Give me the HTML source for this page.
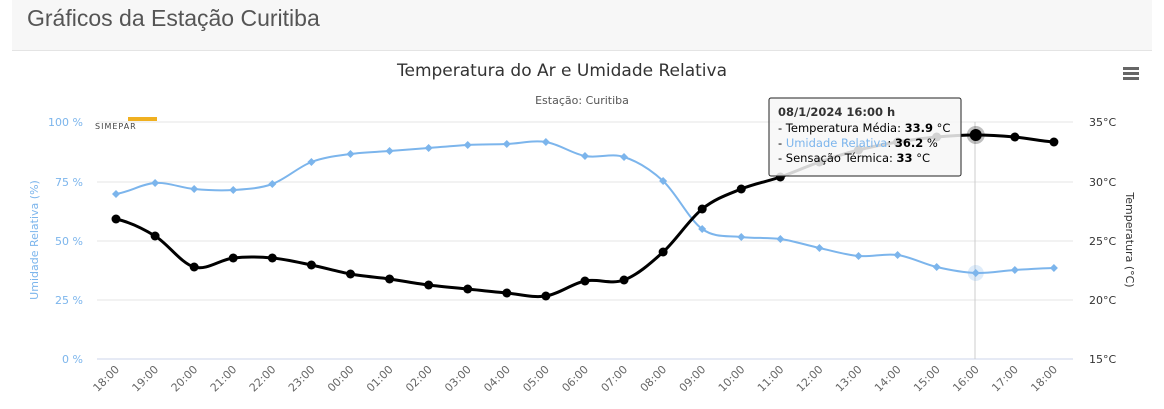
<!DOCTYPE html>
<html><head><meta charset="utf-8"><style>
body{margin:0;width:1164px;height:409px;background:#fff;overflow:hidden;font-family:"Liberation Sans",sans-serif}
#hd{position:absolute;left:12px;top:0;width:1140px;height:50px;background:#f7f7f7;border-bottom:1px solid #e4e4e4}
#hd span{position:absolute;left:15px;top:5px;font-size:23px;color:#555}
svg{position:absolute;left:0;top:0}
</style></head><body>
<div id="hd"><span>Gráficos da Estação Curitiba</span></div>
<svg id="s" width="1164" height="409" font-family="DejaVu Sans, sans-serif">
<text x="562" y="76" text-anchor="middle" font-size="17" fill="#333">Temperatura do Ar e Umidade Relativa</text>
<text x="582" y="104" text-anchor="middle" font-size="11" fill="#555">Estação: Curitiba</text>
<g fill="#666"><rect x="1123" y="67" width="16" height="3"/><rect x="1123" y="72" width="16" height="3"/><rect x="1123" y="77" width="16" height="3"/></g>
<rect x="128" y="117" width="29" height="4" fill="#f0b020"/>
<text x="95" y="129" font-size="8" fill="#444" letter-spacing="1">SIMEPAR</text>
<g stroke="#e6e6e6"><line x1="97" x2="1073" y1="122" y2="122"/><line x1="97" x2="1073" y1="182" y2="182"/><line x1="97" x2="1073" y1="241" y2="241"/><line x1="97" x2="1073" y1="300" y2="300"/></g>
<line x1="97" x2="1073" y1="359" y2="359" stroke="#ccd6eb"/>
<g font-size="11" fill="#7cb5ec" text-anchor="end"><text x="83" y="126">100 %</text><text x="83" y="186">75 %</text><text x="83" y="245">50 %</text><text x="83" y="304">25 %</text><text x="83" y="363">0 %</text></g>
<g font-size="11" fill="#333"><text x="1089" y="126">35°C</text><text x="1089" y="186">30°C</text><text x="1089" y="245">25°C</text><text x="1089" y="304">20°C</text><text x="1089" y="363">15°C</text></g>
<text transform="translate(38,240) rotate(-90)" text-anchor="middle" font-size="11" fill="#7cb5ec">Umidade Relativa (%)</text>
<text transform="translate(1126,240) rotate(90)" text-anchor="middle" font-size="11" fill="#333">Temperatura (°C)</text>
<line x1="975" x2="975" y1="122" y2="359" stroke="#ccc"/>
<g id="g"></g>
<rect x="769" y="98" width="192" height="78" fill="#f7f7f7" fill-opacity="0.85" stroke="#222" rx="2"/>
<text x="778" y="116" font-size="11.5" font-weight="bold" fill="#333">08/1/2024 16:00 h</text>
<text x="778" y="132" font-size="11.5" fill="#000">- Temperatura Média: <tspan font-weight="bold">33.9</tspan> °C</text>
<text x="778" y="147" font-size="11.5" fill="#000">- <tspan fill="#7cb5ec">Umidade Relativa</tspan>: <tspan font-weight="bold">36.2</tspan> %</text>
<text x="778" y="162" font-size="11.5" fill="#000">- Sensação Térmica: <tspan font-weight="bold">33</tspan> °C</text>
</svg>
<script>
var h=[194,183,189,190,184,162,154,151,148,145,144,142,156,157,181,229,237,239,248,256,255,267,273,270,268];
var t=[219,236,267,258,258,265,274,279,285,289,293,296,281,280,252,209,189,177,162,150,142,137,135,137,142];
var labs=["18:00","19:00","20:00","21:00","22:00","23:00","00:00","01:00","02:00","03:00","04:00","05:00","06:00","07:00","08:00","09:00","10:00","11:00","12:00","13:00","14:00","15:00","16:00","17:00","18:00"];
function X(i){return 116+i*39.08}
function path(a){var d="M"+X(0)+","+a[0];for(var i=0;i<a.length-1;i++){var p0=a[Math.max(i-1,0)],p1=a[i],p2=a[i+1],p3=a[Math.min(i+2,a.length-1)];var x1=X(i),x2=X(i+1),dx=39.08/3;d+=" C"+(x1+dx)+","+(p1+(p2-p0)/6)+" "+(x2-dx)+","+(p2-(p3-p1)/6)+" "+x2+","+p2;}return d}
var s="";
s+='<path d="'+path(h)+'" fill="none" stroke="#7cb5ec" stroke-width="2"/>';
s+='<path d="'+path(t)+'" fill="none" stroke="#000" stroke-width="3"/>';
s+='<circle cx="'+X(22)+'" cy="273" r="8" fill="#7cb5ec" opacity="0.25"/>';
s+='<circle cx="'+X(22)+'" cy="135" r="9" fill="#000" opacity="0.25"/>';
for(var i=0;i<25;i++){var x=X(i);s+='<path d="M'+x+','+(h[i]-4)+'l4,4l-4,4l-4,-4z" fill="#7cb5ec"/>';s+='<circle cx="'+x+'" cy="'+t[i]+'" r="'+(i==22?6:4.5)+'" fill="#000"/>';
s+='<text transform="translate('+(x+4)+',370) rotate(-45)" text-anchor="end" font-size="11" fill="#666">'+labs[i]+'</text>';}
document.getElementById("g").innerHTML=s;
</script>
</body></html>
